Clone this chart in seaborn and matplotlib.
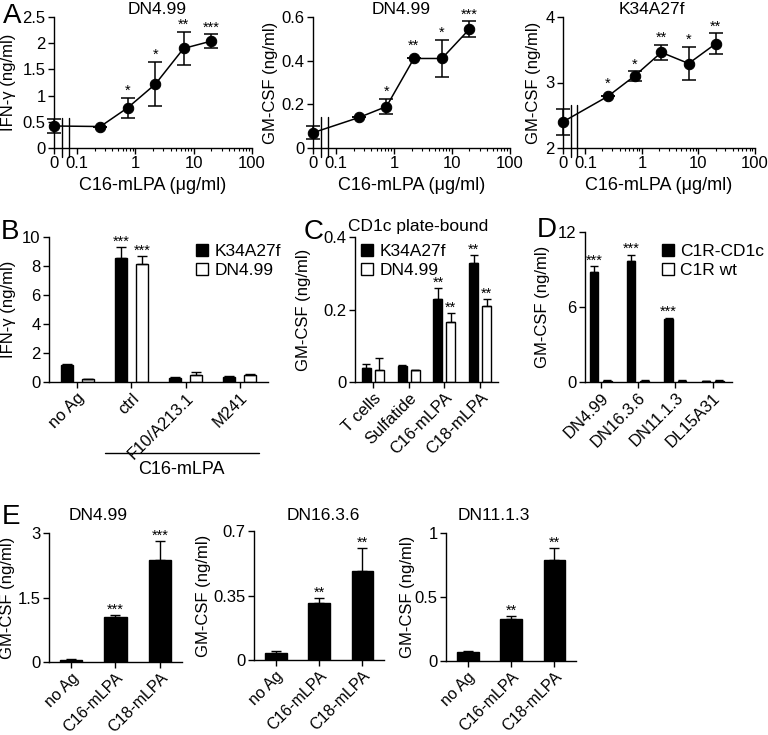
import numpy as np
import pandas as pd
import matplotlib
matplotlib.use("Agg")
import matplotlib.pyplot as plt
import matplotlib.ticker as mticker
import matplotlib.transforms as mtransforms
import seaborn as sns

# ---------------- data ----------------
# Panel A: dose response (C16-mLPA, ug/ml)
conc = [0, 0.25, 0.74, 2.2, 6.7, 20]
a1_vals = [0.42, 0.41, 0.77, 1.22, 1.90, 2.04]
a1_err = [0.14, 0.0, 0.19, 0.42, 0.31, 0.13]
a1_stars = ["", "", "*", "*", "**", "***"]
a2_vals = [0.07, 0.14, 0.19, 0.41, 0.41, 0.545]
a2_err = [0.03, 0.0, 0.035, 0.0, 0.085, 0.035]
a2_stars = ["", "", "*", "**", "*", "***"]
a3_vals = [2.40, 2.79, 3.10, 3.46, 3.29, 3.59]
a3_err = [0.20, 0.0, 0.07, 0.12, 0.25, 0.16]
a3_stars = ["", "*", "*", "**", "*", "**"]
a_xticklabels = ["0", "0.1", "1", "10", "100"]

# Panel B
b_groups = ["no Ag", "ctrl", "F10/A213.1", "M241"]
b_series = ["K34A27f", "DN4.99"]
b_k34 = [1.17, 8.58, 0.30, 0.34]
b_k34_err = [0.05, 0.73, 0.02, 0.07]
b_dn = [0.18, 8.14, 0.48, 0.48]
b_dn_err = [0.05, 0.53, 0.19, 0.07]
b_k34_stars = ["", "***", "", ""]
b_dn_stars = ["", "***", "", ""]

# Panel C
c_groups = ["T cells", "Sulfatide", "C16-mLPA", "C18-mLPA"]
c_series = ["K34A27f", "DN4.99"]
c_k34 = [0.040, 0.044, 0.229, 0.327]
c_k34_err = [0.011, 0.003, 0.029, 0.023]
c_dn = [0.032, 0.032, 0.166, 0.210]
c_dn_err = [0.033, 0.001, 0.023, 0.019]
c_k34_stars = ["", "", "**", "**"]
c_dn_stars = ["", "", "**", "**"]

# Panel D
d_groups = ["DN4.99", "DN16.3.6", "DN11.1.3", "DL15A31"]
d_series = ["C1R-CD1c", "C1R wt"]
d_cd1c = [8.8, 9.7, 5.07, 0.08]
d_cd1c_err = [0.45, 0.5, 0.08, 0.03]
d_wt = [0.12, 0.12, 0.10, 0.10]
d_wt_err = [0.03, 0.03, 0.03, 0.03]
d_cd1c_stars = ["***", "***", "***", ""]
d_wt_stars = ["", "", "", ""]

# Panel E
e_groups = ["no Ag", "C16-mLPA", "C18-mLPA"]
e1_vals = [0.04, 1.05, 2.37]
e1_err = [0.02, 0.04, 0.44]
e1_stars = ["", "***", "***"]
e2_vals = [0.039, 0.309, 0.482]
e2_err = [0.011, 0.025, 0.125]
e2_stars = ["", "**", "**"]
e3_vals = [0.067, 0.33, 0.79]
e3_err = [0.013, 0.02, 0.09]
e3_stars = ["", "**", "**"]

# ---------------- style ----------------
sns.set_theme(style="ticks")
plt.rcParams['font.family'] = ['Liberation Sans', 'DejaVu Sans']
plt.rcParams.update({
    'axes.linewidth': 1.0,
    'axes.edgecolor': 'black',
    'xtick.color': 'black', 'ytick.color': 'black',
    'xtick.major.width': 1.0, 'ytick.major.width': 1.0,
    'xtick.minor.width': 0.8,
    'xtick.major.size': 4, 'ytick.major.size': 4, 'xtick.minor.size': 2.5,
    'xtick.labelsize': 12, 'ytick.labelsize': 12,
    'axes.labelsize': 12,
    'xtick.major.pad': 2, 'ytick.major.pad': 2,
    'axes.labelpad': 3,
    'text.color': 'black', 'axes.labelcolor': 'black',
})

W, H = 768, 735
fig = plt.figure(figsize=(W / 100, H / 100), dpi=100)
TITLE_FS = 12.5
STAR_FS = 10.5


def axpos(l, r, t, b):
    return [l / W, 1 - b / H, (r - l) / W, (b - t) / H]


def place_ylabel(ax, l, r, centre_px):
    ax.yaxis.set_label_coords((centre_px + 5 - l) / (r - l), 0.5)


fmt_g = mticker.FuncFormatter(lambda v, p: f"{v:g}")

# ---------------- Panel A ----------------
zero_pos = 0.04
break_x = [0.055, 0.072]


def dose_panel(box, vals, errs, stars, ylim, yticks, ylabel, break_top, ylab_px):
    l, r, t, b = box
    ax = fig.add_axes(axpos(l, r, t, b))
    xpos = [zero_pos if c == 0 else c for c in conc]
    df = pd.DataFrame({"x": xpos, "y": vals})
    ax.errorbar(xpos, vals, yerr=errs, fmt='none', ecolor='black',
                elinewidth=1.1, capsize=5, capthick=1.1, zorder=2, clip_on=False)
    sns.lineplot(data=df, x="x", y="y", color='black', marker='o', markersize=7.5,
                 markeredgecolor='black', linewidth=1.1, ax=ax, zorder=3, clip_on=False)
    ax.set_xscale('log')
    ax.set_xlim(zero_pos, 100)
    ax.set_ylim(*ylim)
    ax.set_yticks(yticks)
    ax.yaxis.set_major_formatter(fmt_g)
    ax.xaxis.set_major_locator(mticker.FixedLocator([zero_pos, 0.1, 1, 10, 100]))
    ax.set_xticklabels(a_xticklabels)
    minors = [m * d for d in (0.1, 1, 10) for m in range(2, 10)]
    ax.xaxis.set_minor_locator(mticker.FixedLocator(minors))
    ax.xaxis.set_minor_formatter(mticker.NullFormatter())
    ax.set_xlabel("C16-mLPA (\u03bcg/ml)", fontsize=13, labelpad=4)
    ax.set_ylabel(ylabel)
    place_ylabel(ax, l, r, ylab_px)
    sns.despine(ax=ax)
    trans = mtransforms.blended_transform_factory(ax.transData, ax.transAxes)
    for bx in break_x:
        ax.plot([bx, bx], [-0.07, break_top], transform=trans, color='black',
                lw=1.0, clip_on=False, zorder=4)
    for x, v, e, s in zip(xpos, vals, errs, stars):
        if s:
            off = 0 if e > 0 else 4
            ax.annotate(s, (x, v + e), xytext=(0, off), textcoords='offset points',
                        ha='center', va='bottom', fontsize=STAR_FS)
    return ax


axA1 = dose_panel((54, 252, 17, 148), a1_vals, a1_err, a1_stars,
                  (0, 2.5), [0, 0.5, 1, 1.5, 2, 2.5], "IFN-\u03b3 (ng/ml)", 0.23, 11)
axA2 = dose_panel((313, 510, 17, 148), a2_vals, a2_err, a2_stars,
                  (0, 0.6), [0, 0.2, 0.4, 0.6], "GM-CSF (ng/ml)", 0.24, 273)
axA3 = dose_panel((563, 755, 17, 148), a3_vals, a3_err, a3_stars,
                  (2, 4), [2, 3, 4], "GM-CSF (ng/ml)", 0.33, 536)

fig.text(157 / W, 1 - 9 / H, "DN4.99", ha='center', va='center', fontsize=TITLE_FS)
fig.text(401 / W, 1 - 9 / H, "DN4.99", ha='center', va='center', fontsize=TITLE_FS)
fig.text(652 / W, 1 - 9 / H, "K34A27f", ha='center', va='center', fontsize=TITLE_FS)


# ---------------- grouped bars ----------------
def grouped_bars(box, groups, series, vals_list, errs_list, stars_list, xlim,
                 ylim, yticks, ylabel, width, gap, capsize, ylab_px):
    l, r, t, b = box
    ax = fig.add_axes(axpos(l, r, t, b))
    rows = []
    for name, vals in zip(series, vals_list):
        for g, v in zip(groups, vals):
            rows.append({"group": g, "series": name, "value": v})
    df = pd.DataFrame(rows)
    sns.barplot(data=df, x="group", y="value", hue="series", order=groups,
                hue_order=series, palette=['black', 'white'], saturation=1,
                edgecolor='black', linewidth=1.0, width=width, gap=gap,
                errorbar=None, ax=ax)
    for cont, errs, stars in zip(ax.containers, errs_list, stars_list):
        xs = [p.get_x() + p.get_width() / 2 for p in cont]
        hs = [p.get_height() for p in cont]
        ax.errorbar(xs, hs, yerr=[np.zeros(len(errs)), errs], fmt='none',
                    ecolor='black', elinewidth=1.0, capsize=capsize, capthick=1.0,
                    zorder=3)
        for x, h, e, s in zip(xs, hs, errs, stars):
            if s:
                ax.annotate(s, (x, h + e), xytext=(0, -1), textcoords='offset points',
                            ha='center', va='bottom', fontsize=STAR_FS)
    ax.set_xlim(*xlim)
    ax.set_ylim(*ylim)
    ax.set_yticks(yticks)
    ax.yaxis.set_major_formatter(fmt_g)
    ax.set_xlabel("")
    ax.set_ylabel(ylabel)
    place_ylabel(ax, l, r, ylab_px)
    ax.set_xticks(range(len(groups)))
    ax.set_xticklabels(groups, rotation=45, ha='right', rotation_mode='anchor')
    sns.despine(ax=ax)
    return ax


def place_legend(ax, x_px, y_px):
    handles, labels = ax.get_legend_handles_labels()
    ax.legend(handles, labels, loc='upper left', bbox_to_anchor=(x_px / W, 1 - y_px / H),
              bbox_transform=fig.transFigure, frameon=False, fontsize=12.5,
              handlelength=0.7, handleheight=0.7, handletextpad=0.35,
              labelspacing=0.2, borderpad=0, borderaxespad=0)


axB = grouped_bars((49, 268, 237, 382), b_groups, b_series, [b_k34, b_dn],
                   [b_k34_err, b_dn_err], [b_k34_stars, b_dn_stars], (-0.52, 3.52),
                   (0, 10), [0, 2, 4, 6, 8, 10], "IFN-\u03b3 (ng/ml)", 0.78, 0.43, 3.6, 11)
place_legend(axB, 196, 244)
transB = mtransforms.blended_transform_factory(axB.transData, axB.transAxes)
axB.plot([0.52, 3.35], [-0.49, -0.49], transform=transB, color='black', lw=1.0,
         clip_on=False)
axB.text(1.93, -0.6, "C16-mLPA", transform=transB, ha='center', va='center',
         fontsize=13)

axC = grouped_bars((355, 498, 237, 382), c_groups, c_series, [c_k34, c_dn],
                   [c_k34_err, c_dn_err], [c_k34_stars, c_dn_stars], (-0.5, 3.5),
                   (0, 0.4), [0, 0.2, 0.4], "GM-CSF (ng/ml)", 0.72, 0.3, 3.0, 306)
place_legend(axC, 361, 244)

axD = grouped_bars((585, 732, 232, 382), d_groups, d_series, [d_cd1c, d_wt],
                   [d_cd1c_err, d_wt_err], [d_cd1c_stars, d_wt_stars], (-0.42, 3.52),
                   (0, 12), [0, 6, 12], "GM-CSF (ng/ml)", 0.72, 0.37, 3.0, 545)
place_legend(axD, 662, 244)

fig.text(418 / W, 1 - 226 / H, "CD1c plate-bound", ha='center', va='center',
         fontsize=TITLE_FS)


# ---------------- Panel E ----------------
def single_bars(box, vals, errs, stars, ylim, yticks, ylab_px):
    l, r, t, b = box
    ax = fig.add_axes(axpos(l, r, t, b))
    df = pd.DataFrame({"group": e_groups, "value": vals})
    sns.barplot(data=df, x="group", y="value", order=e_groups, color='black',
                saturation=1, edgecolor='black', linewidth=1.0, width=0.5,
                errorbar=None, ax=ax)
    cont = ax.containers[0]
    xs = [p.get_x() + p.get_width() / 2 for p in cont]
    hs = [p.get_height() for p in cont]
    ax.errorbar(xs, hs, yerr=[np.zeros(len(errs)), errs], fmt='none', ecolor='black',
                elinewidth=1.0, capsize=3.6, capthick=1.0, zorder=3)
    for x, h, e, s in zip(xs, hs, errs, stars):
        if s:
            ax.annotate(s, (x, h + e), xytext=(0, -1), textcoords='offset points',
                        ha='center', va='bottom', fontsize=STAR_FS)
    ax.set_xlim(-0.5, 2.5)
    ax.set_ylim(*ylim)
    ax.set_yticks(yticks)
    ax.yaxis.set_major_formatter(fmt_g)
    ax.set_xlabel("")
    ax.set_ylabel("GM-CSF (ng/ml)")
    place_ylabel(ax, l, r, ylab_px)
    ax.set_xticks(range(len(e_groups)))
    ax.set_xticklabels(e_groups, rotation=45, ha='right', rotation_mode='anchor',
                       fontsize=11.5)
    sns.despine(ax=ax)
    return ax


axE1 = single_bars((49, 182, 533, 662), e1_vals, e1_err, e1_stars, (0, 3), [0, 1.5, 3], 10)
axE2 = single_bars((254, 384, 531, 660), e2_vals, e2_err, e2_stars, (0, 0.7), [0, 0.35, 0.7], 206)
axE3 = single_bars((446, 576, 533, 661), e3_vals, e3_err, e3_stars, (0, 1), [0, 0.5, 1], 410)

fig.text(98 / W, 1 - 515 / H, "DN4.99", ha='center', va='center', fontsize=TITLE_FS)
fig.text(323 / W, 1 - 516 / H, "DN16.3.6", ha='center', va='center', fontsize=TITLE_FS)
fig.text(494 / W, 1 - 516 / H, "DN11.1.3", ha='center', va='center', fontsize=TITLE_FS)

# panel letters
for letter, xp, yp in [("A", 3, 16), ("B", 1, 232), ("C", 304, 232), ("D", 537, 230),
                       ("E", 2, 517)]:
    fig.text(xp / W, 1 - yp / H, letter, ha='left', va='center', fontsize=20)

fig.savefig("out.png", dpi=100)
